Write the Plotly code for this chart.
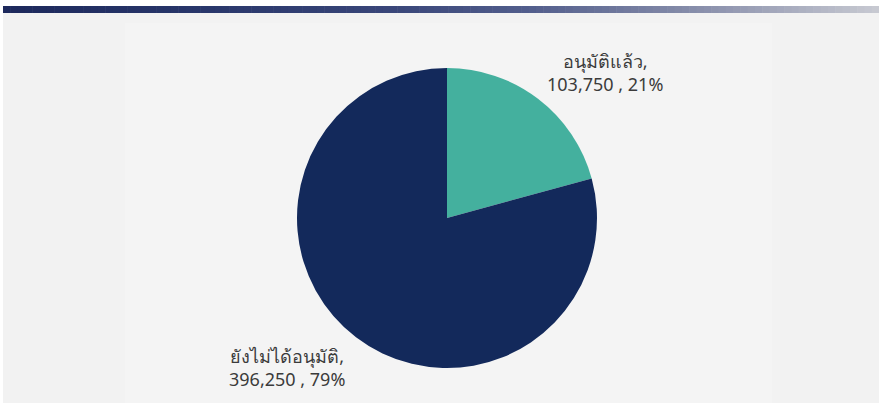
import plotly.graph_objects as go

# Approval status breakdown
categories = ["อนุมัติแล้ว", "ยังไม่ได้อนุมัติ"]
values = [103750, 396250]
colors = ["#44b09e", "#13295b"]

total = sum(values)
shares = [v / total * 100 for v in values]

W, H = 879, 403

fig = go.Figure()
fig.add_trace(go.Pie(
    labels=categories,
    values=values,
    sort=False,
    direction="clockwise",
    rotation=0,
    textinfo="none",
    hoverinfo="label+value+percent",
    marker=dict(colors=colors, line=dict(width=0)),
    domain=dict(x=[297 / W, 597 / W], y=[35 / H, 335 / H]),
    showlegend=False,
))

shapes = []
# light grey panel behind the chart
shapes.append(dict(type="rect", xref="paper", yref="paper",
                   x0=3 / W, x1=1, y0=0, y1=1 - 13 / H,
                   fillcolor="#f2f2f2", line=dict(width=0), layer="below"))
shapes.append(dict(type="rect", xref="paper", yref="paper",
                   x0=125 / W, x1=772 / W, y0=0, y1=1 - 23 / H,
                   fillcolor="#f4f4f4", line=dict(width=0), layer="below"))

# header bar with a navy-to-grey gradient built from thin strips
stops = [(0.0, (29, 41, 92)), (0.22, (40, 54, 106)), (0.45, (58, 71, 122)),
         (0.6, (82, 94, 140)), (0.8, (138, 144, 172)), (1.0, (200, 202, 210))]


def grad(t):
    for (t0, c0), (t1, c1) in zip(stops[:-1], stops[1:]):
        if t <= t1:
            f = (t - t0) / (t1 - t0)
            return tuple(round(a + (b - a) * f) for a, b in zip(c0, c1))
    return stops[-1][1]


n = 120
x_start, x_end = 3, W
for i in range(n):
    xa = x_start + (x_end - x_start) * i / n
    xb = x_start + (x_end - x_start) * (i + 1) / n + 0.6
    r, g, b = grad((i + 0.5) / n)
    shapes.append(dict(type="rect", xref="paper", yref="paper",
                       x0=xa / W, x1=min(xb, W) / W,
                       y0=1 - 13 / H, y1=1 - 6 / H,
                       fillcolor=f"rgb({r},{g},{b})", line=dict(width=0),
                       layer="below"))

label_font = dict(family="Noto Sans, Tahoma, sans-serif", size=18, color="#3b3b3b")
label_pos = [(605, 72), (287, 367)]
annotations = []
for cat, v, s, (px, py) in zip(categories, values, shares, label_pos):
    annotations.append(dict(
        text=f"{cat},<br>{v:,} , {s:.0f}%",
        x=px / W, y=1 - py / H, xref="paper", yref="paper",
        xanchor="center", yanchor="middle", showarrow=False,
        font=label_font, align="center",
    ))

fig.update_layout(
    width=W, height=H,
    margin=dict(l=0, r=0, t=0, b=0),
    paper_bgcolor="white",
    plot_bgcolor="white",
    shapes=shapes,
    annotations=annotations,
)

fig.write_html("out.html")
